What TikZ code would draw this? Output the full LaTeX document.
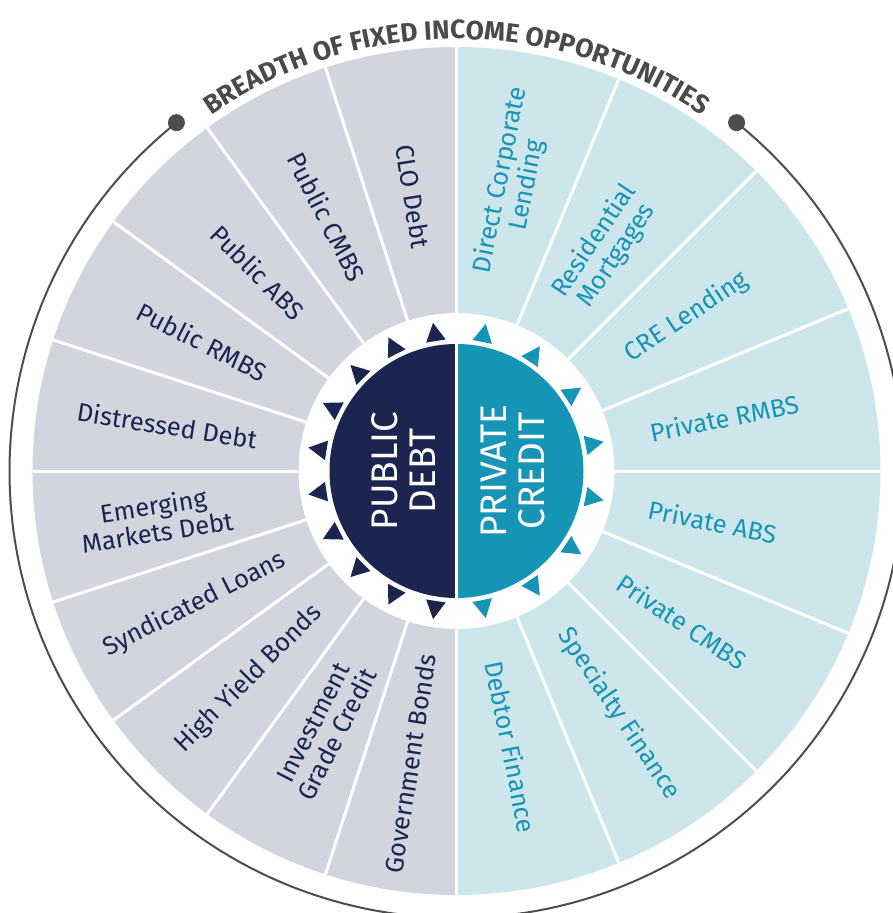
\documentclass[tikz,border=0pt]{standalone}
\usepackage{fontspec}
\setmainfont{Fira Sans}
\usetikzlibrary{decorations.text}

\definecolor{pubgray}{HTML}{D2D4DE}
\definecolor{privblue}{HTML}{CDE6EC}
\definecolor{navyblue}{HTML}{1B2550}
\definecolor{privteal}{HTML}{1795B6}
\definecolor{titlegray}{HTML}{4A494E}
\definecolor{ringgray}{HTML}{4D4D4F}

\begin{document}
\begin{tikzpicture}[x=1pt,y=1pt,
  publabel/.style={text=navyblue,align=center,inner sep=0pt,font=\fontsize{25.5}{27}\selectfont},
  privlabel/.style={text=privteal,align=center,inner sep=0pt,font=\fontsize{25.5}{27}\selectfont},
  sep/.style={white,line width=3pt},
  centertext/.style={white,align=center,rotate=90,inner sep=0pt,font=\fontsize{37}{38}\selectfont}]

 \useasboundingbox (-456.5,-442) rectangle (436.5,471);
 \coordinate (center) at (0,0);

 %Coordinates
 \coordinate (ringstart) at (128.8:447);
 \coordinate (ringend) at (51.2:447);

 %Wedges
 \fill[pubgray] (90:158) -- (90:424) arc[start angle=90,end angle=270,radius=424] -- (270:158) arc[start angle=270,end angle=90,radius=158] -- cycle;
 \fill[privblue] (90:158) -- (90:424) arc[start angle=90,end angle=-90,radius=424] -- (-90:158) arc[start angle=-90,end angle=90,radius=158] -- cycle;

 \foreach \a in {90,108,...,270}
 \draw[sep] (\a:158) -- (\a:424);
 \foreach \a in {67.5,45,22.5,0,-22.5,-45,-67.5}
 \draw[sep] (\a:158) -- (\a:424);

 %Center disc
 \fill[navyblue] (90:127) arc[start angle=90,end angle=270,radius=127] -- cycle;
 \fill[privteal] (-90:127) arc[start angle=-90,end angle=90,radius=127] -- cycle;
 \draw[sep] (90:128) -- (270:128);

 %Triangles
 \foreach \a in {99,117,...,261}
 \fill[navyblue] (\a:150) -- ({\a+4.3}:132) -- ({\a-4.3}:132) -- cycle;
 \foreach \a in {78.75,56.25,33.75,11.25,-11.25,-33.75,-56.25,-78.75}
 \fill[privteal] (\a:150) -- ({\a+4.3}:132) -- ({\a-4.3}:132) -- cycle;

 %Names
 \node (public) [centertext] at (-53,0) {PUBLIC\\DEBT};
 \node (private) [centertext] at (56,0) {PRIVATE\\CREDIT};

 \foreach \a/\r/\txt [count=\i] in {99/278/CLO Debt, 117/285/Public CMBS, 135/281/Public ABS,
   153/285/Public RMBS, 171/293/Distressed Debt, 189/305/{Emerging\\Markets Debt},
   207/294/Syndicated Loans, 225/294/High Yield Bonds, 243/289/{Investment\\Grade Credit},
   261/296/Government Bonds}
 \node (pub-\i) [publabel,rotate=\a-180] at (\a:\r) {\txt};

 \foreach \a/\r/\txt [count=\i] in {78.75/294/{Direct Corporate\\Lending}, 56.25/268/{Residential\\Mortgages},
   33.75/277/CRE Lending, 11.25/273/Private RMBS, -11.25/261/Private ABS,
   -33.75/271/Private CMBS, -56.25/292/Specialty Finance, -78.75/281/Debtor Finance}
 \node (priv-\i) [privlabel,rotate=\a] at (\a:\r) {\txt};

 %Ring and title
 \draw[ringgray,line width=2pt] (ringstart) arc[start angle=128.8,end angle=411.2,radius=447];
 \fill[ringgray] (ringstart) circle[radius=8.5];
 \fill[ringgray] (ringend) circle[radius=8.5];

 \path[decorate,decoration={text along path,text color=titlegray,text align=center,
   text={|\fontsize{26.5}{26.5}\selectfont\bfseries|BREADTH OF FIXED INCOME OPPORTUNITIES}}]
   (130:432) arc[start angle=130,end angle=50,radius=432];

\end{tikzpicture}
\end{document}
